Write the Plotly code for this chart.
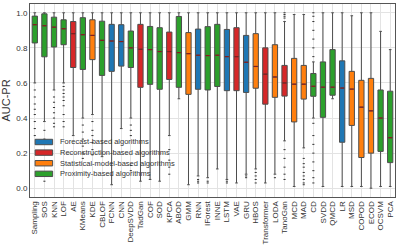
import plotly.graph_objects as go

algorithms = ["Sampling", "SOS", "KNN", "LOF", "AE", "KMeans", "KDE", "CBLOF", "FCNN", "CNN",
              "DeepSVDD", "TadGan", "COF", "SOD", "KPCA", "ABOD", "GMM", "RNN", "IForest", "INNE",
              "LSTM", "VAE", "GRU", "HBOS", "Transformer", "LODA", "TanoGan", "MCD", "MAD", "CD",
              "SVDD", "QMCD", "LR", "MSD", "COPOD", "ECOD", "OCSVM", "PCA"]
groups = ["P", "P", "P", "P", "R", "P", "S", "P", "F", "F",
          "P", "R", "P", "P", "R", "P", "S", "F", "P", "P",
          "F", "R", "F", "S", "R", "S", "R", "S", "S", "P",
          "P", "P", "F", "S", "S", "S", "P", "P"]
q3 = [0.981, 0.994, 0.975, 0.960, 0.950, 0.972, 0.960, 0.952, 0.934, 0.932,
      0.896, 0.934, 0.922, 0.915, 0.890, 0.979, 0.887, 0.907, 0.921, 0.934,
      0.905, 0.915, 0.871, 0.881, 0.800, 0.818, 0.700, 0.740, 0.700, 0.654,
      0.720, 0.790, 0.726, 0.666, 0.615, 0.626, 0.560, 0.553]
medians = [0.932, 0.926, 0.918, 0.909, 0.881, 0.875, 0.871, 0.843, 0.839, 0.836,
           0.800, 0.792, 0.790, 0.779, 0.779, 0.773, 0.767, 0.758, 0.756, 0.758,
           0.750, 0.750, 0.718, 0.694, 0.650, 0.634, 0.600, 0.593, 0.593, 0.581,
           0.576, 0.576, 0.571, 0.565, 0.462, 0.441, 0.400, 0.288]
q1 = [0.828, 0.749, 0.805, 0.818, 0.688, 0.677, 0.733, 0.643, 0.666, 0.696,
      0.688, 0.575, 0.592, 0.564, 0.620, 0.575, 0.535, 0.564, 0.560, 0.580,
      0.556, 0.556, 0.546, 0.570, 0.479, 0.518, 0.525, 0.378, 0.508, 0.524,
      0.404, 0.530, 0.262, 0.358, 0.175, 0.200, 0.210, 0.146]
whisker_high = [1.0, 1.0, 1.0, 1.0, 1.0, 1.0, 1.0, 1.0, 1.0, 1.0,
                1.0, 1.0, 1.0, 1.0, 1.0, 1.0, 1.0, 1.0, 1.0, 1.0,
                1.0, 1.0, 1.0, 1.0, 1.0, 1.0, 0.95, 0.99, 0.99, 0.72,
                1.0, 1.0, 1.0, 0.983, 1.0, 1.0, 0.894, 0.79]
whisker_low = [0.60, 0.38, 0.56, 0.60, 0.30, 0.40, 0.42, 0.18, 0.02, 0.34,
               0.40, 0.04, 0.05, 0.04, 0.30, 0.51, 0.02, 0.07, 0.06, 0.11,
               0.05, 0.03, 0.08, 0.11, 0.03, 0.08, 0.27, 0.01, 0.23, 0.40,
               0.01, 0.51, 0.01, 0.01, 0.01, 0.0, 0.01, 0.01]
outliers = {
    "Sampling": [0.56, 0.52, 0.48, 0.45, 0.42, 0.38, 0.34, 0.30],
    "SOS": [0.33, 0.28, 0.20, 0.04],
    "KNN": [0.52, 0.49, 0.46, 0.43, 0.40, 0.37, 0.35],
    "LOF": [0.58, 0.56, 0.54, 0.52, 0.50, 0.47, 0.42, 0.38, 0.35],
    "KMeans": [0.36, 0.32, 0.28, 0.24, 0.20, 0.17],
    "KDE": [0.38, 0.33, 0.30, 0.26, 0.22, 0.19],
    "DeepSVDD": [0.36, 0.33, 0.30, 0.13, 0.10],
    "KPCA": [0.22, 0.16, 0.12, 0.08],
    "RNN": [0.05, 0.04, 0.03],
    "IForest": [0.04, 0.03],
    "LSTM": [0.04, 0.03],
    "GRU": [0.07, 0.06],
    "HBOS": [0.09, 0.07, 0.05, 0.03],
    "LODA": [0.06],
    "TanoGan": [0.97, 0.98, 0.99, 1.0, 0.22, 0.17, 0.12, 0.08, 0.05],
    "MAD": [0.17, 0.14, 0.12, 0.09, 0.07, 0.05, 0.03, 0.02],
    "CD": [0.75, 0.80, 0.85, 0.90, 0.95, 0.98, 1.0, 0.37, 0.30, 0.25, 0.20, 0.15, 0.10, 0.06, 0.03],
}
group_order = ["F", "R", "S", "P"]
group_names = {"F": "Forecast-based algorithms", "R": "Reconstruction-based algorithms",
               "S": "Statistical-model-based algorithms", "P": "Proximity-based algorithms"}
group_colors = {"F": "#1f77b4", "R": "#d62728", "S": "#ff7f0e", "P": "#2ca02c"}

fig = go.Figure()
for g in group_order:
    idx = [i for i, gg in enumerate(groups) if gg == g]
    fig.add_trace(go.Box(
        name=group_names[g], showlegend=False,
        x=[algorithms[i] for i in idx],
        q1=[q1[i] for i in idx], median=[medians[i] for i in idx], q3=[q3[i] for i in idx],
        lowerfence=[whisker_low[i] for i in idx], upperfence=[whisker_high[i] for i in idx],
        fillcolor=group_colors[g], line=dict(color="#4d4d4d", width=1),
        boxpoints=False, width=0.55, whiskerwidth=0.5,
    ))

ox, oy = [], []
for k, vals in outliers.items():
    for v in vals:
        ox.append(k)
        oy.append(v)
fig.add_trace(go.Scatter(x=ox, y=oy, mode="markers", showlegend=False, hoverinfo="skip",
                         marker=dict(symbol="line-ew", size=1.5, line=dict(color="#333333", width=1))))
fig.add_trace(go.Scatter(x=algorithms, y=medians, mode="markers", showlegend=False, hoverinfo="skip",
                         marker=dict(symbol="line-ew", size=2.6, line=dict(color="#8b1a1a", width=1.2))))

# manual legend (compact, like the reference)
shapes, annotations = [], []
leg_y = [0.285, 0.23, 0.175, 0.12]
for g, yc in zip(group_order, leg_y):
    shapes.append(dict(type="rect", xref="paper", yref="paper", x0=0.014, x1=0.062,
                       y0=yc - 0.014, y1=yc + 0.014, fillcolor=group_colors[g],
                       line=dict(color="#4d4d4d", width=1)))
    annotations.append(dict(xref="paper", yref="paper", x=0.076, y=yc, xanchor="left",
                            yanchor="middle", text=group_names[g], showarrow=False,
                            font=dict(size=7.5, color="#333333")))

fig.update_layout(
    width=399, height=247,
    margin=dict(l=30, r=3, t=3, b=49),
    plot_bgcolor="white", paper_bgcolor="white",
    boxmode="overlay", showlegend=False,
    font=dict(family="Liberation Sans, Arial, sans-serif", size=8, color="#333333"),
    shapes=shapes, annotations=annotations,
)
fig.update_xaxes(type="category", categoryorder="array", categoryarray=algorithms,
                 range=[-0.5, 37.5], tickmode="linear", tick0=0, dtick=1,
                 tickangle=-90, showgrid=True, gridcolor="#e3e3e3",
                 showline=True, mirror=True, linecolor="#555555", linewidth=1,
                 tickfont=dict(size=8), ticks="", ticklen=0)
fig.update_yaxes(range=[-0.05, 1.05], tickvals=[0, 0.2, 0.4, 0.6, 0.8, 1.0],
                 ticktext=["0.0", "0.2", "0.4", "0.6", "0.8", "1.0"],
                 showgrid=True, gridcolor="#e3e3e3", zeroline=False,
                 showline=True, mirror=True, linecolor="#555555", linewidth=1,
                 tickfont=dict(size=8),
                 title=dict(text="AUC-PR", font=dict(size=11), standoff=4))
fig.write_html("out.html", config={"displayModeBar": False},
               post_script="document.body.style.margin='0';")
